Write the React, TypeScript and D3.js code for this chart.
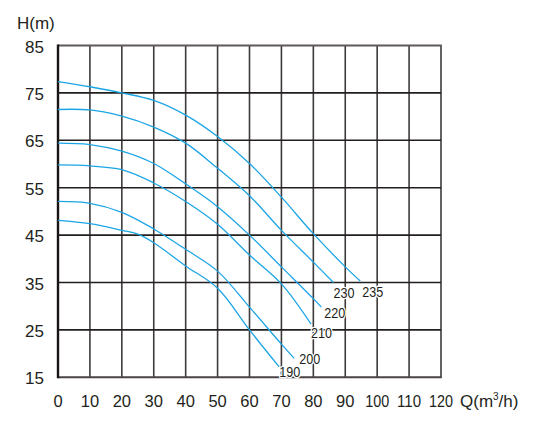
import React, { useEffect, useRef } from "react";
import * as d3 from "d3";

// pump curves (Q in m3/h, H in m)
const impellers = ["235", "230", "220", "210", "200", "190"];
const q235 = [0, 10, 20, 30, 40, 50, 60, 70, 80, 90, 94.7];
const h235 = [77.4, 76.3, 75.0, 73.4, 70.3, 65.8, 60.1, 53.0, 45.3, 38.3, 35.3];
const q230 = [0, 10, 20, 30, 40, 50, 60, 70, 80, 86.3];
const h230 = [71.5, 71.4, 70.1, 67.8, 64.4, 59.1, 53.3, 46.0, 39.3, 35.0];
const q220 = [0, 10, 20, 30, 40, 50, 60, 70, 80, 82.5];
const h220 = [64.4, 64.1, 62.7, 60.1, 55.8, 51.0, 45.0, 38.3, 31.6, 29.8];
const q210 = [0, 10, 20, 30, 40, 50, 60, 70, 79.3];
const h210 = [59.8, 59.6, 58.8, 56.0, 52.1, 47.3, 40.8, 34.7, 26.2];
const q200 = [0, 10, 20, 30, 40, 50, 60, 70, 74.0];
const h200 = [52.1, 51.7, 49.8, 46.3, 42.0, 37.4, 29.8, 22.0, 19.0];
const q190 = [0, 10, 20, 25, 30, 40, 50, 60, 69.3];
const h190 = [48.1, 47.4, 46.0, 45.2, 43.4, 38.5, 33.8, 25.0, 17.2];

const flows = [q235, q230, q220, q210, q200, q190];
const heads = [h235, h230, h220, h210, h200, h190];

const xTicks = [0, 10, 20, 30, 40, 50, 60, 70, 80, 90, 100, 110, 120];
const yTicks = [15, 25, 35, 45, 55, 65, 75, 85];

// where each curve label sits relative to the curve end, in px
const labelNudge: [number, number][] = [
  [2, 16],
  [0, 15],
  [3, 11],
  [0, 14],
  [5, 6],
  [0, 10],
];

const FONT = "'Liberation Sans', Arial, sans-serif";
const INK = "#231f20";

const App: React.FC = () => {
  const svgRef = useRef<SVGSVGElement | null>(null);

  useEffect(() => {
    if (!svgRef.current) return;
    const svg = d3.select(svgRef.current);
    svg.selectAll("*").remove();

    const x = d3.scaleLinear().domain([0, 120]).range([58, 441]);
    const y = d3.scaleLinear().domain([15, 85]).range([377.3, 45.5]);

    const grid = svg.append("g");

    // vertical grid
    grid
      .selectAll(".vline")
      .data(xTicks.slice(1))
      .enter()
      .append("line")
      .attr("x1", (d) => x(d))
      .attr("x2", (d) => x(d))
      .attr("y1", y(85))
      .attr("y2", y(15))
      .attr("stroke", "#3e3a3a")
      .attr("stroke-width", 1.6);

    // horizontal grid
    grid
      .selectAll(".hline")
      .data(yTicks.slice(1, -1))
      .enter()
      .append("line")
      .attr("x1", x(0))
      .attr("x2", x(120))
      .attr("y1", (d) => y(d))
      .attr("y2", (d) => y(d))
      .attr("stroke", "#231f1f")
      .attr("stroke-width", 1.6);

    // frame
    grid
      .append("line")
      .attr("x1", x(0))
      .attr("x2", x(120) + 0.8)
      .attr("y1", y(85))
      .attr("y2", y(85))
      .attr("stroke", "#5e5858")
      .attr("stroke-width", 2);
    grid
      .append("line")
      .attr("x1", x(0))
      .attr("x2", x(120) + 0.8)
      .attr("y1", y(15))
      .attr("y2", y(15))
      .attr("stroke", "#4a4545")
      .attr("stroke-width", 2);
    grid
      .append("line")
      .attr("x1", x(0))
      .attr("x2", x(0))
      .attr("y1", y(85) - 1)
      .attr("y2", y(15) + 1)
      .attr("stroke", "#1a1515")
      .attr("stroke-width", 2.4);

    const line = d3
      .line<[number, number]>()
      .x((d) => x(d[0]))
      .y((d) => y(d[1]))
      .curve(d3.curveCatmullRom.alpha(0.5));

    impellers.forEach((name, i) => {
      const pts = flows[i].map((q, j) => [q, heads[i][j]] as [number, number]);
      svg
        .append("path")
        .datum(pts)
        .attr("fill", "none")
        .attr("stroke", "#1ca5e5")
        .attr("stroke-width", 1.3)
        .attr("d", line);

      const last = pts[pts.length - 1];
      svg
        .append("text")
        .attr("x", x(last[0]) + labelNudge[i][0])
        .attr("y", y(last[1]) + labelNudge[i][1])
        .attr("font-family", FONT)
        .attr("font-size", 14)
        .attr("textLength", 21)
        .attr("lengthAdjust", "spacingAndGlyphs")
        .attr("fill", INK)
        .attr("stroke", "#fff")
        .attr("stroke-width", 2.5)
        .attr("paint-order", "stroke")
        .text(name);
    });

    // y tick labels
    svg
      .selectAll(".ylab")
      .data(yTicks)
      .enter()
      .append("text")
      .attr("x", 44)
      .attr("y", (d) => y(d) + 7)
      .attr("text-anchor", "end")
      .attr("font-family", FONT)
      .attr("font-size", 17)
      .attr("fill", INK)
      .text((d) => d);

    // x tick labels, the three-digit ones are squeezed like in the print
    svg
      .selectAll(".xlab")
      .data(xTicks)
      .enter()
      .append("text")
      .attr("x", (d) => x(d))
      .attr("y", 407)
      .attr("text-anchor", "middle")
      .attr("font-family", FONT)
      .attr("font-size", 16.5)
      .attr("fill", INK)
      .each(function (d) {
        if (d >= 100) {
          d3.select(this)
            .attr("textLength", 24)
            .attr("lengthAdjust", "spacingAndGlyphs");
        }
      })
      .text((d) => d);

    svg
      .append("text")
      .attr("x", 17)
      .attr("y", 29)
      .attr("font-family", FONT)
      .attr("font-size", 17)
      .attr("fill", INK)
      .text("H(m)");

    const qt = svg
      .append("text")
      .attr("x", 460)
      .attr("y", 407)
      .attr("font-family", FONT)
      .attr("font-size", 17)
      .attr("fill", INK);
    qt.append("tspan").text("Q(m");
    qt.append("tspan").attr("font-size", 10).attr("dy", -7).text("3");
    qt.append("tspan").attr("dy", 7).text("/h)");
  }, []);

  return (
    <svg
      ref={svgRef}
      width={560}
      height={425}
      style={{ position: "absolute", left: 0, top: 0, background: "#fff" }}
    ></svg>
  );
};

export default App;
